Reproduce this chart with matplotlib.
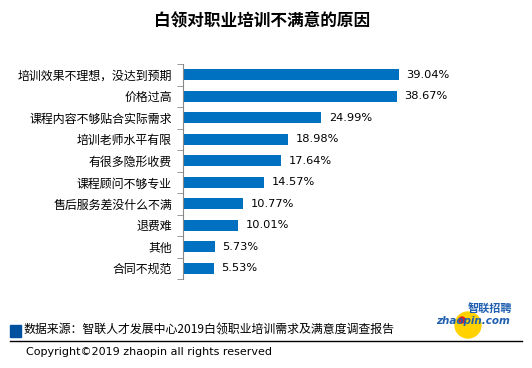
import matplotlib.pyplot as plt
from matplotlib.patches import Rectangle, Ellipse
from matplotlib.lines import Line2D

plt.rcParams['font.family'] = ['Noto Sans CJK SC', 'DejaVu Sans']

title = "白领对职业培训不满意的原因"
categories = [
    "培训效果不理想，没达到预期",
    "价格过高",
    "课程内容不够贴合实际需求",
    "培训老师水平有限",
    "有很多隐形收费",
    "课程顾问不够专业",
    "售后服务差没什么不满",
    "退费难",
    "其他",
    "合同不规范",
]
values = [39.04, 38.67, 24.99, 18.98, 17.64, 14.57, 10.77, 10.01, 5.73, 5.53]
source_text = "数据来源：智联人才发展中心2019白领职业培训需求及满意度调查报告"
copyright_text = "Copyright©2019 zhaopin all rights reserved"

W, H = 532, 368
fig = plt.figure(figsize=(W / 100, H / 100), dpi=100)
fig.patch.set_facecolor("white")

ax = fig.add_axes([183 / W, 1 - 279 / H, 45 * 5.53 / W, 215 / H])
y = list(range(len(categories)))
ax.barh(y, values, height=0.52, color="#0070C0")
ax.set_xlim(0, 45)
ax.set_ylim(len(categories) - 0.5, -0.5)
ax.set_yticks(y)
ax.set_yticklabels(categories, fontsize=8.6)
ax.tick_params(axis="y", length=0, pad=8)
# separator ticks between categories
ax.set_yticks([i + 0.5 for i in range(-1, len(categories))], minor=True)
ax.tick_params(axis="y", which="minor", length=4, color="#888888")
ax.set_xticks([])
for side in ["top", "right", "bottom"]:
    ax.spines[side].set_visible(False)
ax.spines["left"].set_color("#888888")

for i, v in enumerate(values):
    ax.text(v + 1.4, i, f"{v:.2f}%", va="center", ha="left", fontsize=8.2,
            family=["DejaVu Sans"])

fig.text(262 / W, 1 - 20 / H, title, ha="center", va="center", fontsize=12,
         fontweight="bold")

# footer
fig.patches.append(Rectangle((10 / W, 1 - 337 / H), 11 / W, 12 / H,
                             transform=fig.transFigure, color="#0050A0"))
fig.text(24 / W, 1 - 330 / H, source_text, ha="left", va="center", fontsize=8.6)
fig.lines.append(Line2D([10 / W, 522 / W], [1 - 341 / H, 1 - 341 / H],
                        transform=fig.transFigure, color="black", lw=1))
fig.text(26 / W, 1 - 352 / H, copyright_text, ha="left", va="center", fontsize=8,
         family=["DejaVu Sans"])

# logo
fig.patches.append(Ellipse((468 / W, 1 - 325 / H), 26 / W, 26 / H,
                           transform=fig.transFigure, color="#FFD200"))
fig.patches.append(Ellipse((462 / W, 1 - 320 / H), 6 / W, 6 / H,
                           transform=fig.transFigure, color="#E02020"))
fig.text(490 / W, 1 - 309 / H, "智联招聘", ha="center", va="center", fontsize=8,
         color="#1F5FB0", fontweight="bold", style="italic")
fig.text(473 / W, 1 - 321 / H, "zhaopin.com", ha="center", va="center", fontsize=7.5,
         color="#1F5FB0", fontweight="bold", style="italic", family=["DejaVu Sans"])

fig.savefig("out.png", dpi=100)
